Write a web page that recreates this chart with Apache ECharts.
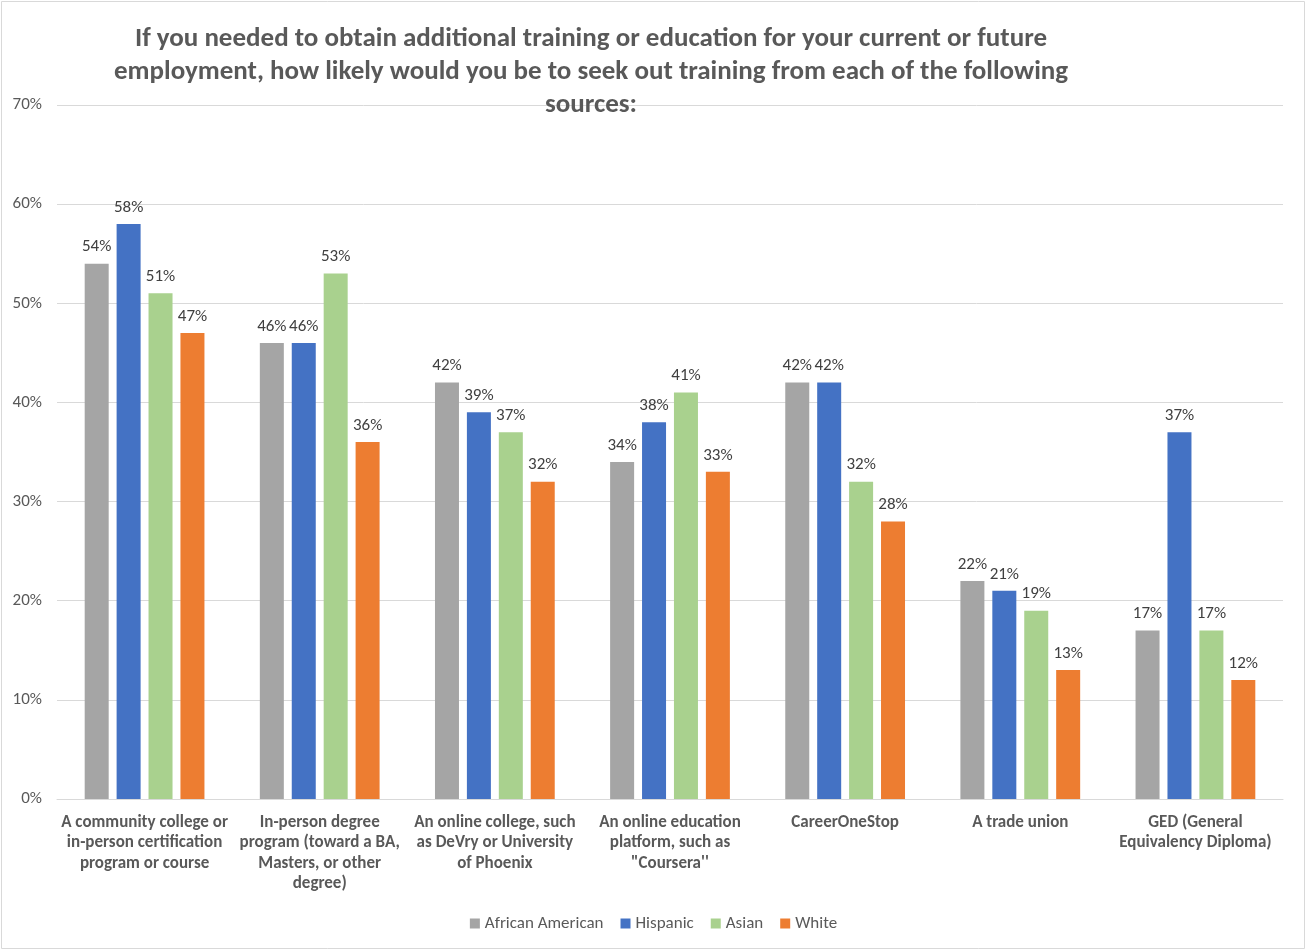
<!DOCTYPE html>
<html><head><meta charset="utf-8">
<script src="https://cdn.jsdelivr.net/npm/echarts@6/dist/echarts.min.js"></script>
<style>html,body{margin:0;padding:0;background:#fff}#c{width:1307px;height:951px}</style>
</head><body><div id="c"></div>
<script>
const categories = [
  "A community college or\nin-person certification\nprogram or course",
  "In-person degree\nprogram (toward a BA,\nMasters, or other\ndegree)",
  "An online college, such\nas DeVry or University\nof Phoenix",
  "An online education\nplatform, such as\n\"Coursera''",
  "CareerOneStop",
  "A trade union",
  "GED (General\nEquivalency Diploma)"
];
const africanAmerican = [54, 46, 42, 34, 42, 22, 17];
const hispanic        = [58, 46, 39, 38, 42, 21, 37];
const asian           = [51, 53, 37, 41, 32, 19, 17];
const white           = [47, 36, 32, 33, 28, 13, 12];
const seriesNames = ["African American", "Hispanic", "Asian", "White"];
const colors = ["#a5a5a5", "#4472c4", "#a9d18e", "#ed7d31"];
const yTicks = [0, 10, 20, 30, 40, 50, 60, 70];

const FONT = "Carlito, Lato, 'Liberation Sans', sans-serif";
const chart = echarts.init(document.getElementById('c'), null, {renderer: 'canvas'});
const data = [africanAmerican, hispanic, asian, white];
chart.setOption({
  animation: false,
  textStyle: {fontFamily: FONT},
  title: {
    text: "If you needed to obtain additional training or education for your current or future\nemployment, how likely would you be to seek out training from each of the following\nsources:",
    left: 586, top: 18, textAlign: 'center',
    textStyle: {fontFamily: FONT, fontSize: 27, fontWeight: 'bold', color: '#595959', lineHeight: 33}
  },
  graphic: [{type: 'rect', shape: {x: 1.5, y: 1.5, width: 1303, height: 947}, style: {fill: 'none', stroke: '#d9d9d9', lineWidth: 1}, silent: true, z: -1}],
  legend: {
    top: 910, left: 'center', itemWidth: 10, itemHeight: 10, itemGap: 17,
    icon: 'rect',
    textStyle: {fontFamily: FONT, fontSize: 17, color: '#595959'},
    data: seriesNames
  },
  grid: {left: 57, right: 24, top: 105, bottom: 152, containLabel: false},
  xAxis: {
    type: 'category', data: categories,
    axisLine: {lineStyle: {color: '#d9d9d9', width: 1}},
    axisTick: {show: false},
    axisLabel: {interval: 0, fontFamily: FONT, fontSize: 17, fontWeight: 'bold', color: '#595959', lineHeight: 20.5, margin: 13}
  },
  yAxis: {
    type: 'value', min: 0, max: 70, interval: 10,
    axisLine: {show: false}, axisTick: {show: false},
    splitLine: {lineStyle: {color: '#d9d9d9', width: 1}},
    axisLabel: {fontFamily: FONT, fontSize: 17, color: '#595959', margin: 15,
      formatter: v => yTicks.includes(v) ? v + '%' : ''}
  },
  series: seriesNames.map((n, i) => ({
    name: n, type: 'bar', data: data[i], barWidth: 24, barGap: '33%',
    itemStyle: {color: colors[i]},
    label: {show: true, position: 'top', distance: 8, formatter: p => p.value + '%',
      fontFamily: FONT, fontSize: 17, color: '#404040'}
  }))
});
</script></body></html>
